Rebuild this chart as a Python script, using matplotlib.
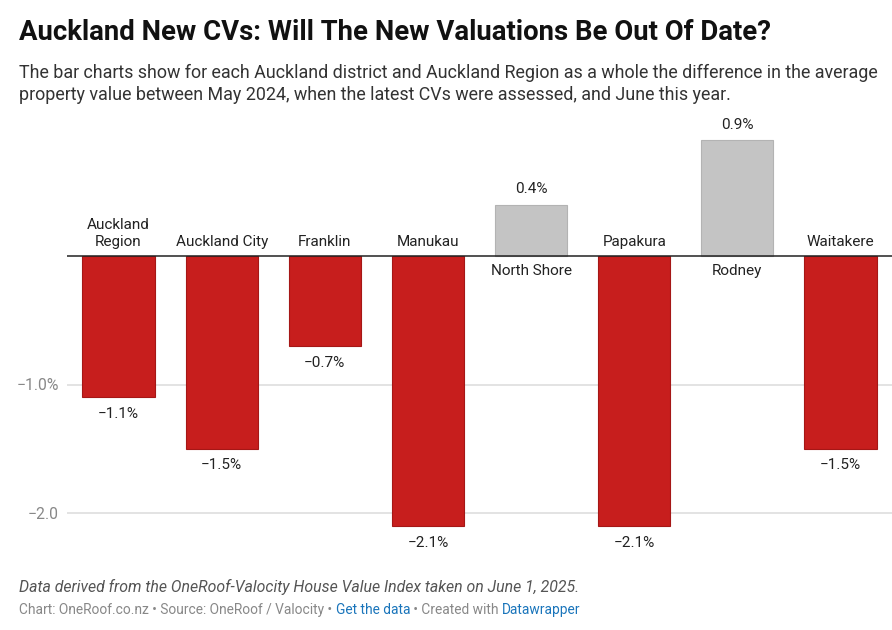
import matplotlib
matplotlib.use("Agg")
import matplotlib.pyplot as plt

plt.rcParams['font.family'] = ['Roboto', 'DejaVu Sans']

districts = ["Auckland\nRegion", "Auckland City", "Franklin", "Manukau",
             "North Shore", "Papakura", "Rodney", "Waitakere"]
change = [-1.1, -1.5, -0.7, -2.1, 0.4, -2.1, 0.9, -1.5]
yticks = [-1.0, -2.0]
ytick_labels = ["\u22121.0%", "\u22122.0"]

W, H = 892, 630
fig = plt.figure(figsize=(W / 100, H / 100), dpi=100)
ymin, ymax = -2.2, 1.0
top_px, bot_px = 127.5, 538.7
ax = fig.add_axes([67 / W, 1 - bot_px / H, 1 - 67 / W, (bot_px - top_px) / H])

x = range(len(districts))
colors = ['#c71e1d' if v < 0 else '#c4c4c4' for v in change]
edges = ['#a51716' if v < 0 else '#b3b3b3' for v in change]
ax.bar(x, change, width=0.70, color=colors, edgecolor=edges, linewidth=0.8, zorder=3)

ax.set_xlim(-0.5, 7.5)
ax.set_ylim(ymin, ymax)
for s in ax.spines.values():
    s.set_visible(False)
ax.set_xticks([])
ax.set_yticks(yticks)
ax.set_yticklabels(ytick_labels)
ax.tick_params(axis='y', length=0, pad=6, labelsize=11.3, labelcolor='#888888')
ax.grid(axis='y', color='#e0e0e0', linewidth=1.3, zorder=0)
ax.axhline(0, color='#222222', linewidth=1.1, zorder=4)

for i, (name, v) in enumerate(zip(districts, change)):
    lab = f"{abs(v):.1f}%"
    if v < 0:
        lab = "\u2212" + lab
        ax.annotate(lab, (i, v), xytext=(0, -7), textcoords='offset points',
                    ha='center', va='top', fontsize=11, color='#222222')
        ax.annotate(name, (i, 0), xytext=(0, 5), textcoords='offset points',
                    ha='center', va='bottom', fontsize=11, color='#222222',
                    linespacing=1.25)
    else:
        ax.annotate(lab, (i, v), xytext=(0, 6), textcoords='offset points',
                    ha='center', va='bottom', fontsize=11, color='#222222')
        ax.annotate(name, (i, 0), xytext=(0, -6), textcoords='offset points',
                    ha='center', va='top', fontsize=11, color='#222222')

fig.text(19 / W, 1 - 33 / H, "Auckland New CVs: Will The New Valuations Be Out Of Date?",
         fontsize=19.8, fontweight='bold', color='#111111', va='center')
fig.text(19 / W, 1 - 84 / H,
         "The bar charts show for each Auckland district and Auckland Region as a whole the difference in the average\n"
         "property value between May 2024, when the latest CVs were assessed, and June this year.",
         fontsize=12.85, color='#333333', va='center', linespacing=1.32)
fig.text(19 / W, 1 - 587 / H,
         "Data derived from the OneRoof-Valocity House Value Index taken on June 1, 2025.",
         fontsize=11.4, style='italic', color='#555555', va='center')

# footer with coloured links
parts = [("Chart: OneRoof.co.nz \u2022 Source: OneRoof / Valocity \u2022 ", '#888888'),
         ("Get the data", '#1a75bb'),
         (" \u2022 Created with ", '#888888'),
         ("Datawrapper", '#1a75bb')]
fig.canvas.draw()
r = fig.canvas.get_renderer()
xpos = 19
for txt, col in parts:
    t = fig.text(xpos / W, 1 - 610 / H, txt, fontsize=9.9, color=col, va='center')
    xpos += t.get_window_extent(renderer=r).width

fig.savefig("out.png", dpi=100)
